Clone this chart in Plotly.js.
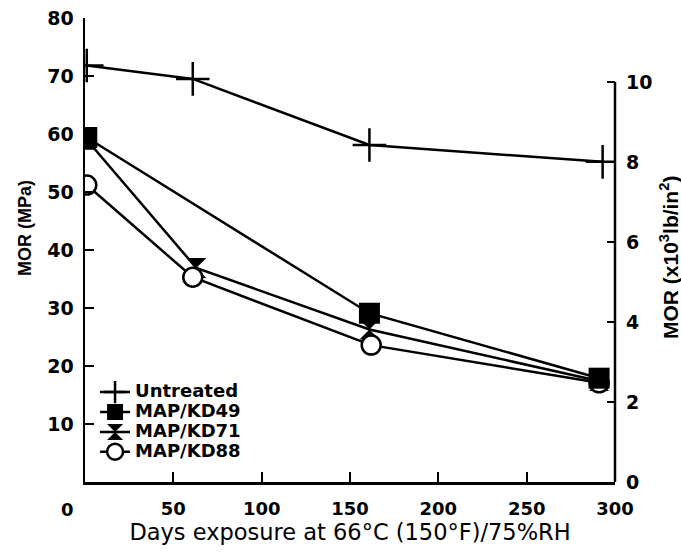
<!DOCTYPE html>
<html>
<head>
<meta charset="utf-8">
<script src="https://cdn.plot.ly/plotly-3.0.1.min.js"></script>
<style>html,body{margin:0;padding:0;background:#fff;}#chart{width:681px;height:553px;}</style>
</head>
<body>
<div id="chart"></div>
<script>
// Days of exposure and MOR (MPa)
var daysUntreated = [1, 61, 161, 293];
var morUntreated  = [71.8, 69.5, 58.1, 55.2];
var daysKD49 = [1, 161, 291];
var morKD49  = [59.4, 29.1, 17.9];
var daysKD71 = [1, 63, 161, 291];
var morKD71  = [59.0, 36.9, 26.3, 17.4];
var daysKD88 = [1, 61, 162, 291];
var morKD88  = [51.2, 35.3, 23.6, 17.1];

var seriesNames = ['Untreated', 'MAP/KD49', 'MAP/KD71', 'MAP/KD88'];
var xTicks = [50, 100, 150, 200, 250, 300];
var yLeftTicks = [10, 20, 30, 40, 50, 60, 70, 80];
var yRightTicks = [0, 2, 4, 6, 8, 10];
var MPA_PER_KSI = 6.895;

var xTickFont = {family: 'DejaVu Sans', size: 18, color: '#000', weight: 'bold'};
var yTickFont = {family: 'DejaVu Sans', size: 19, color: '#000', weight: 'bold'};
function lg(name) { return '<span style="font-size:18px">' + name + '</span>'; }

var lineStyle = {color: '#000', width: 2.5};
var traces = [
  {x: daysUntreated, y: morUntreated, name: lg(seriesNames[0]), legendrank: 1, mode: 'lines+markers',
   line: lineStyle, marker: {symbol: 'cross-thin-open', size: 24, color: '#000', line: {color: '#000', width: 2.5}}},
  {x: daysKD71, y: morKD71, name: lg(seriesNames[2]), legendrank: 3, mode: 'lines+markers',
   line: lineStyle, marker: {symbol: 'hourglass', size: 20, color: '#000', line: {width: 0}}},
  {x: daysKD88, y: morKD88, name: lg(seriesNames[3]), legendrank: 4, mode: 'lines+markers',
   line: lineStyle, marker: {symbol: 'circle', size: 19, color: '#fff', line: {color: '#000', width: 2.5}}},
  {x: daysKD49, y: morKD49, name: lg(seriesNames[1]), legendrank: 2, mode: 'lines+markers',
   line: lineStyle, marker: {symbol: 'square', size: 21, color: '#000', line: {width: 0}}},
  // invisible trace to activate the right-hand (x10^3 lb/in^2) axis
  {x: [], y: [], yaxis: 'y2', showlegend: false, hoverinfo: 'skip'}
];

var layout = {
  width: 681, height: 553,
  margin: {l: 85, r: 66, t: 18, b: 71},
  paper_bgcolor: '#fff', plot_bgcolor: '#fff',
  showlegend: true,
  legend: {x: 0.019, y: 0.226, xanchor: 'left', yanchor: 'top', bgcolor: 'rgba(0,0,0,0)',
           font: {family: 'DejaVu Sans', size: 13, color: '#000', weight: 'bold'}, tracegroupgap: 0},
  xaxis: {range: [0, 300], tickvals: xTicks, ticks: 'inside', ticklen: 10, tickwidth: 2, tickcolor: '#000',
          showline: true, linewidth: 2.5, linecolor: '#000', showgrid: false, zeroline: false,
          tickfont: xTickFont, ticklabelstandoff: 9,
          title: {text: 'Days exposure at 66°C (150°F)/75%RH', standoff: 0,
                  font: {family: 'DejaVu Sans', size: 22.5, color: '#000'}}},
  yaxis: {range: [0, 80], tickvals: yLeftTicks, ticks: 'inside', ticklen: 9, tickwidth: 2, tickcolor: '#000',
          showline: true, linewidth: 2.5, linecolor: '#000', showgrid: false, zeroline: false,
          tickfont: yTickFont, ticklabelstandoff: 5},
  yaxis2: {overlaying: 'y', side: 'right', range: [0, 80 / MPA_PER_KSI], tickvals: yRightTicks,
           ticks: 'inside', ticklen: 8, tickwidth: 2, tickcolor: '#000',
           showline: false, showgrid: false, zeroline: false, tickfont: yTickFont, ticklabelstandoff: 10},
  shapes: [
    {type: 'line', xref: 'paper', yref: 'y2', x0: 1, x1: 1, y0: 0, y1: 10, line: {color: '#000', width: 2.5}}
  ],
  annotations: [
    {text: '0', xref: 'x', yref: 'paper', x: 0, y: 0, xanchor: 'center', yanchor: 'middle',
     xshift: -18, yshift: -27, showarrow: false, font: xTickFont},
    {text: 'MOR (MPa)', xref: 'paper', yref: 'paper', x: -0.1132, y: 0.5474, textangle: -90,
     xanchor: 'center', yanchor: 'middle', showarrow: false,
     font: {family: 'Liberation Sans', size: 18, color: '#000', weight: 'bold'}},
    {text: 'MOR (x10<sup>3</sup>lb/in<sup>2</sup>)', xref: 'paper', yref: 'paper', x: 1.1019, y: 0.4828, textangle: -90,
     xanchor: 'center', yanchor: 'middle', showarrow: false,
     font: {family: 'Liberation Sans', size: 21, color: '#000', weight: 'bold'}}
  ]
};

Plotly.newPlot('chart', traces, layout, {displayModeBar: false, staticPlot: true});
</script>
</body>
</html>
